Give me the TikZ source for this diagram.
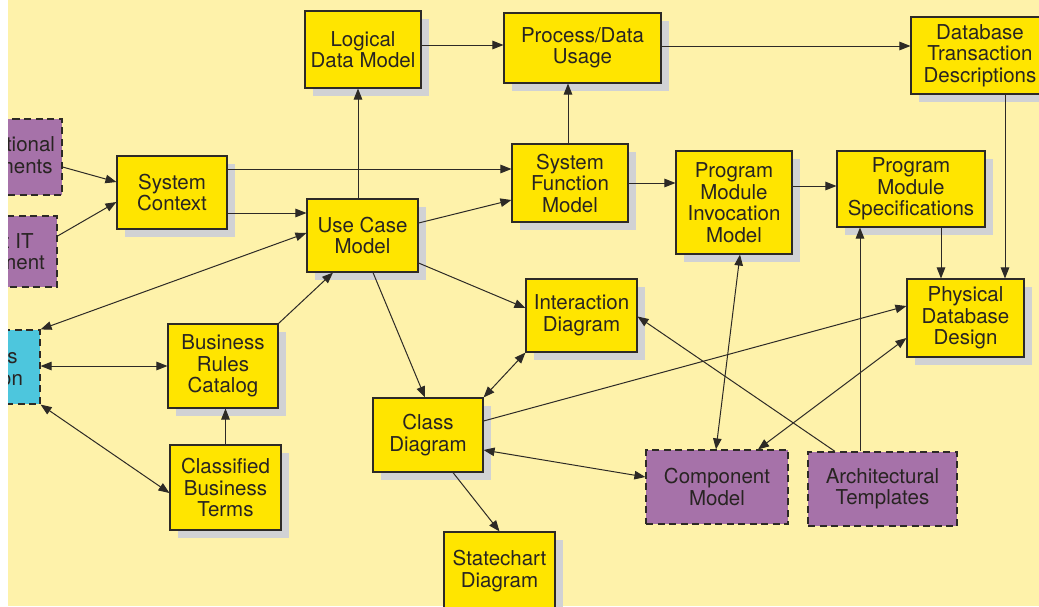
\documentclass[tikz,border=0pt]{standalone}
\usepackage{fontspec}
\setmainfont{TeX Gyre Heros}
\usepackage{tikz}
\usetikzlibrary{arrows.meta,shadows}
\definecolor{PaperCream}{RGB}{254,242,170}
\definecolor{BoxYellow}{RGB}{255,229,0}
\definecolor{ShadowGray}{RGB}{209,210,212}
\definecolor{InputPurple}{RGB}{166,114,169}
\definecolor{InputCyan}{RGB}{77,198,221}
\definecolor{LineDark}{RGB}{45,42,38}
\definecolor{TextDark}{RGB}{40,36,34}

\tikzset{
  >={Triangle[length=11pt,width=8.5pt]},
  boxsize/.style 2 args={minimum width=#1, minimum height=#2},
  artifact/.style={rectangle, draw=LineDark, line width=1.1pt, fill=BoxYellow,
        text=TextDark, align=center, inner sep=0pt,
        font=\fontsize{20.5}{21.5}\selectfont,
        drop shadow={shadow xshift=8pt, shadow yshift=-8pt, fill=ShadowGray, opacity=1}},
  source/.style={rectangle, draw=LineDark, line width=1.2pt, dash pattern=on 7pt off 4.5pt,
        fill=InputPurple, text=TextDark, align=center, inner sep=0pt,
        font=\fontsize{20.5}{21.5}\selectfont},
  flow/.style={->, draw=LineDark, line width=1pt},
  both/.style={<->, draw=LineDark, line width=1pt}
}

\begin{document}
\begin{tikzpicture}[x=1pt,y=-1pt]
  \useasboundingbox (0,0) rectangle (1039,606);
  \fill[white] (0,0) rectangle (8,606);
  \fill[PaperCream] (8,0) rectangle (1039,606);
  \begin{scope}
    \clip (8,0) rectangle (1039,606);
    % inputs on the left, cut by the page edge
    \node[source, boxsize={146pt}{76pt}] (orgreq) at (-11,157) {Organizational\\Requirements};
    \node[source, boxsize={139pt}{71pt}] (itenv) at (-12.5,251.5) {Current IT\\Environment};
    \node[source, fill=InputCyan, boxsize={172pt}{74pt}] (reqdoc) at (-46,367) {Requirements\\Documentation};

    % model artifacts
    \node[artifact, boxsize={116pt}{77pt}] (logical) at (363,49.5) {Logical\\Data Model};
    \node[artifact, boxsize={157pt}{70pt}] (usage) at (582.5,48) {Process/Data\\Usage};
    \node[artifact, boxsize={138pt}{77pt}] (transact) at (980,55.5) {Database\\Transaction\\Descriptions};
    \node[artifact, boxsize={110pt}{73pt}] (context) at (172,192.5) {System\\Context};
    \node[artifact, boxsize={111pt}{73pt}] (usecase) at (362.5,235.5) {Use Case\\Model};
    \node[artifact, boxsize={116pt}{78pt}] (function) at (570,183) {System\\Function\\Model};
    \node[artifact, boxsize={116pt}{103pt}] (invoke) at (734,202.5) {Program\\Module\\Invocation\\Model};
    \node[artifact, boxsize={148pt}{76pt}] (specs) at (911,189) {Program\\Module\\Specifications};
    \node[artifact, boxsize={117pt}{78pt}] (physical) at (965.5,318) {Physical\\Database\\Design};
    \node[artifact, boxsize={111pt}{73pt}] (interact) at (581.5,315.5) {Interaction\\Diagram};
    \node[artifact, boxsize={110pt}{74pt}] (class) at (428,435) {Class\\Diagram};
    \node[artifact, boxsize={110pt}{84pt}] (rules) at (223,366) {Business\\Rules\\Catalog};
    \node[artifact, boxsize={111pt}{85pt}] (terms) at (225.5,487.5) {Classified\\Business\\Terms};
    \node[artifact, boxsize={111pt}{78pt}] (state) at (499.5,571) {Statechart\\Diagram};

    % architecture inputs
    \node[source, boxsize={142pt}{74pt}] (component) at (717,487) {Component\\Model};
    \node[source, boxsize={149pt}{74pt}] (templates) at (882.5,489) {Architectural\\Templates};

    % connectors
    \draw[flow] (orgreq.east) ++(0,10) -- ([yshift=10.5pt]context.west);
    \draw[flow] ([yshift=15.5pt]itenv.east) -- ([yshift=-9.5pt]context.west);
    \draw[flow] ([yshift=23.5pt]context.east) -- ([yshift=23.5pt]context.east -| function.west);
    \draw[flow] ([yshift=-20.5pt]context.east) -- ([yshift=-20.5pt]context.east -| usecase.west);
    \draw[flow] ([xshift=-4.5pt]usecase.north) -- ([xshift=-4.5pt]usecase.north |- logical.south);
    \draw[flow] ([yshift=4.5pt]logical.east) -- ([yshift=4.5pt]logical.east -| usage.west);
    \draw[flow] ([yshift=2pt]usage.east) -- ([yshift=2pt]usage.east -| transact.west);
    \draw[flow] ([xshift=-2pt]function.north) -- ([xshift=-2pt]function.north |- usage.south);
    \draw[flow] ([yshift=12.5pt]usecase.east) -- ([yshift=-17pt]function.west);
    \draw[flow] (function.east) -- (function.east -| invoke.west);
    \draw[flow] ([yshift=16.5pt]invoke.east) -- ([yshift=16.5pt]invoke.east -| specs.west);
    \draw[flow] ([xshift=30pt]specs.south) -- ([xshift=30pt]specs.south |- physical.north);
    \draw[flow] ([xshift=25pt]transact.south) -- ([xshift=25pt]transact.south |- physical.north);
    \draw[both] ([yshift=2.5pt]usecase.west) -- (reqdoc.north east);
    \draw[both] (reqdoc.east |- rules.west) -- (rules.west);
    \draw[both] (reqdoc.south east) -- ([yshift=-5.5pt]terms.west);
    \draw[flow] (terms.north) -- (terms.north |- rules.south);
    \draw[flow] (rules.north east) -- ([xshift=-29.5pt]usecase.south);
    \draw[flow] ([yshift=-27.5pt]usecase.east) -- ([yshift=7.5pt]interact.west);
    \draw[flow] ([xshift=10.5pt]usecase.south) -- ([xshift=-3pt]class.north);
    \draw[both] (class.north east) -- (interact.south west);
    \draw[flow] ([yshift=14pt]class.east) -- ([yshift=12pt]physical.west);
    \draw[both] ([yshift=-15pt]class.east) -- ([yshift=10pt]component.west);
    \draw[flow] ([xshift=25pt]class.south) -- (state.north);
    \draw[both] ([xshift=6pt]invoke.south) -- ([xshift=-1pt]component.north);
    \draw[both] ([xshift=41pt]component.north) -- ([yshift=-20pt]physical.west);
    \draw[flow] ([xshift=-47.5pt]templates.north) -- ([yshift=-1pt]interact.east);
    \draw[flow] ([xshift=-22.5pt]templates.north) -- ([xshift=-22.5pt]templates.north |- specs.south);
  \end{scope}
\end{tikzpicture}
\end{document}
